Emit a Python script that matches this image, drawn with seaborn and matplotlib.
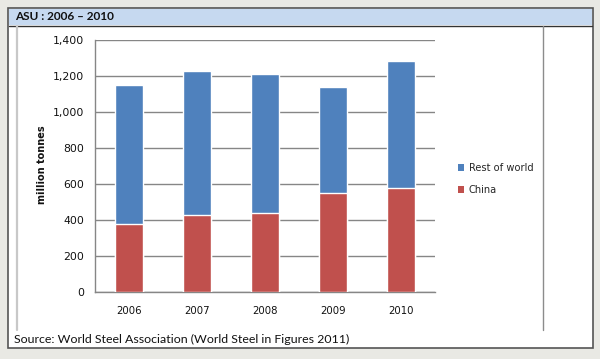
import pandas as pd
import matplotlib
matplotlib.use("Agg")
import matplotlib.pyplot as plt
from matplotlib.patches import Rectangle, Patch
from matplotlib.lines import Line2D
import seaborn as sns

# Data (million tonnes)
years = ["2006", "2007", "2008", "2009", "2010"]
china = [379, 426, 439, 552, 580]
rest_of_world = [771, 803, 772, 585, 705]

df = pd.DataFrame({"year": years, "China": china, "Rest of world": rest_of_world})
df["total"] = df["China"] + df["Rest of world"]

blue = "#4F81BD"
red = "#C0504D"
grid_col = "#868686"

sns.set_style("white")
plt.rcParams["font.family"] = ["DejaVu Sans"]

W, H = 600, 359
fig = plt.figure(figsize=(6, 3.59), dpi=100, facecolor="#e9e9e4")


def fx(x):
    return x / W


def fy(y):
    return 1 - y / H


# Panel frame
fig.add_artist(Rectangle((fx(8), fy(348)), fx(585), 340 / H, transform=fig.transFigure,
                         facecolor="white", edgecolor="#555555", lw=1.2, zorder=0))
fig.add_artist(Rectangle((fx(9), fy(25)), fx(583), 16 / H, transform=fig.transFigure,
                         facecolor="#c6d9f0", edgecolor="none", zorder=1))
fig.add_artist(Line2D([fx(9), fx(592)], [fy(25.5), fy(25.5)], transform=fig.transFigure,
                      color="#333333", lw=1.0, zorder=2))
fig.add_artist(Line2D([fx(16.5), fx(16.5)], [fy(26), fy(330)], transform=fig.transFigure,
                      color="#c8c8c8", lw=1.6, zorder=2))
fig.add_artist(Line2D([fx(543), fx(543)], [fy(26), fy(330)], transform=fig.transFigure,
                      color="#8c8c8c", lw=1.0, zorder=2))

fig.text(fx(15), fy(17), "ASU : 2006 \u2013 2010", fontsize=8.5, fontweight="bold",
         family=["Lato", "DejaVu Sans"], va="center", ha="left", color="#111111")
fig.text(fx(14), fy(339), "Source: World Steel Association (World Steel in Figures 2011)",
         fontsize=8.9, family=["Lato", "DejaVu Sans"], va="center", ha="left", color="#111111")

# Chart axes
ax = fig.add_axes([fx(95), fy(292), 340 / W, 252 / H])
ax.set_facecolor("none")
sns.barplot(data=df, x="year", y="total", color=blue, width=0.4, saturation=1,
            ax=ax, zorder=3)
sns.barplot(data=df, x="year", y="China", color=red, width=0.4, saturation=1,
            ax=ax, zorder=4)

ax.set_xlim(-0.5, 4.5)
ax.set_ylim(0, 1400)
ax.set_yticks(range(0, 1401, 200))
ax.set_yticklabels([f"{v:,}" for v in range(0, 1401, 200)])
ax.yaxis.grid(True, color=grid_col, lw=1.0)
ax.set_axisbelow(True)

ax.set_xticks([i - 0.5 for i in range(6)], minor=False)
ax.set_xticklabels([])
ax.set_xticks(range(5), minor=True)
ax.set_xticklabels(years, minor=True)
ax.tick_params(axis="x", which="major", length=5, color=grid_col, width=1, direction="out")
ax.tick_params(axis="x", which="minor", length=0, pad=10, labelsize=7.3, labelcolor="#111111")
ax.tick_params(axis="y", length=5, color=grid_col, width=1, direction="out",
               labelsize=7.8, labelcolor="#111111", pad=3)

for s in ["top", "right"]:
    ax.spines[s].set_visible(False)
for s in ["left", "bottom"]:
    ax.spines[s].set_color(grid_col)
    ax.spines[s].set_linewidth(1.0)

ax.set_xlabel("")
ax.set_ylabel("")
fig.text(fx(42), fy(165), "million tonnes", rotation=90, fontsize=7, fontweight="bold",
         va="center", ha="center", color="#111111")

handles = [Patch(facecolor=blue, edgecolor="none", label="Rest of world"),
           Patch(facecolor=red, edgecolor="none", label="China")]
fig.legend(handles=handles, loc="center left", bbox_to_anchor=(fx(454), fy(179)),
           frameon=False, fontsize=7.1, handlelength=0.6, handleheight=0.6,
           handletextpad=0.5, labelspacing=1.2, borderaxespad=0)

fig.savefig("out.png", dpi=100, facecolor=fig.get_facecolor())
